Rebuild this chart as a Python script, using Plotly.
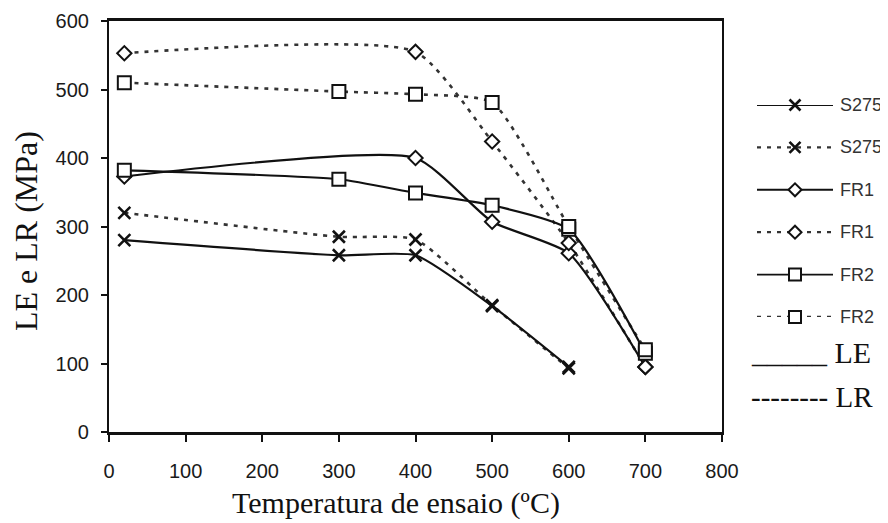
import plotly.graph_objects as go

# ---- data ----
temps_s275 = [20, 300, 400, 500, 600]
s275_le = [280, 258, 258, 184, 95]
s275_lr = [320, 285, 281, 185, 93]

temps_fr1 = [20, 400, 500, 600, 700]
fr1_le = [373, 400, 307, 261, 95]
fr1_lr = [553, 555, 424, 276, 95]

temps_fr2 = [20, 300, 400, 500, 600, 700]
fr2_le = [382, 369, 349, 331, 296, 115]
fr2_lr = [510, 497, 493, 481, 300, 120]

legend_labels = ["S275", "S275", "FR1", "FR1", "FR2", "FR2"]
x_ticks = [0, 100, 200, 300, 400, 500, 600, 700, 800]
y_ticks = [0, 100, 200, 300, 400, 500, 600]
x_title = "Temperatura de ensaio (ºC)"
y_title = "LE e LR (MPa)"

SOLID = dict(color="#111111", width=2.2, dash="solid")
DOTTED = dict(color="#333333", width=2.6, dash="4px,6px")

MK = {
    "x": dict(symbol="x-thin", size=12, color="#111111", line=dict(color="#111111", width=2.6)),
    "d": dict(symbol="diamond", size=11, color="white", line=dict(color="#111111", width=2)),
    "s": dict(symbol="square", size=13, color="white", line=dict(color="#111111", width=2)),
}

series = [
    (temps_s275, s275_le, "x", SOLID),
    (temps_s275, s275_lr, "x", DOTTED),
    (temps_fr1, fr1_le, "d", SOLID),
    (temps_fr1, fr1_lr, "d", DOTTED),
    (temps_fr2, fr2_le, "s", SOLID),
    (temps_fr2, fr2_lr, "s", DOTTED),
]

fig = go.Figure()

for xs, ys, m, ln in [series[1], series[3], series[5], series[0], series[2], series[4]]:
    fig.add_trace(go.Scatter(
        x=xs, y=ys, mode="lines",
        line=dict(color=ln["color"], width=ln["width"], dash=ln["dash"], shape="spline", smoothing=0.55),
        showlegend=False, hoverinfo="skip", cliponaxis=False,
    ))
for xs, ys, m, ln in series:
    fig.add_trace(go.Scatter(
        x=xs, y=ys, mode="markers", marker=MK[m],
        showlegend=False, cliponaxis=False,
    ))

# ---- custom legend drawn on an auxiliary invisible axis pair ----
for i, (xs, ys, m, ln) in enumerate(series):
    fig.add_trace(go.Scatter(
        x=[0, 1], y=[i, i], mode="lines", xaxis="x3", yaxis="y3",
        line=dict(color=ln["color"], width=ln["width"] - 0.3, dash=ln["dash"]),
        showlegend=False, hoverinfo="skip", cliponaxis=False,
    ))
    fig.add_trace(go.Scatter(
        x=[0.5], y=[i], mode="markers", xaxis="x3", yaxis="y3",
        marker=dict(MK[m], size=MK[m]["size"] - 1),
        showlegend=False, hoverinfo="skip", cliponaxis=False,
    ))

annotations = []
for i, lab in enumerate(legend_labels):
    annotations.append(dict(
        x=1, y=i, xref="x3", yref="y3", xshift=5, xanchor="left", yanchor="middle",
        text=lab, showarrow=False,
        font=dict(family="Liberation Sans, Arial", size=18, color="#333333"),
    ))
annotations.append(dict(
    x=(749 - 109) / 779, y=(432 - 352) / 411, xref="paper", yref="paper",
    xanchor="left", yanchor="middle",
    text="_____ LE", showarrow=False,
    font=dict(family="Liberation Serif, Times New Roman", size=30, color="#111111"),
))
annotations.append(dict(
    x=(749 - 109) / 779, y=(432 - 397) / 411, xref="paper", yref="paper",
    xanchor="left", yanchor="middle",
    text="-------- LR", showarrow=False,
    font=dict(family="Liberation Serif, Times New Roman", size=29, color="#111111"),
))
# axis titles
annotations.append(dict(
    x=(396 - 109) / 779, y=(432 - 503) / 411, xref="paper", yref="paper",
    xanchor="center", yanchor="middle",
    text=x_title, showarrow=False,
    font=dict(family="Liberation Serif, Times New Roman", size=30, color="#111111"),
))
annotations.append(dict(
    x=(26 - 109) / 779, y=(432 - 231) / 411, xref="paper", yref="paper",
    xanchor="center", yanchor="middle",
    text=y_title, showarrow=False, textangle=-90,
    font=dict(family="Liberation Serif, Times New Roman", size=32, color="#111111"),
))

main_dom = [0, 613 / 779]
tickfont = dict(family="Liberation Sans, Arial", size=20, color="#1a1a1a")

# the page body has an 8px default margin, so the figure is drawn 8px smaller
# and offset accordingly to land on the same pixels as the reference
fig.update_layout(
    template="none",
    width=880, height=515,
    margin=dict(l=101, r=0, t=13, b=91, pad=0, autoexpand=False),
    paper_bgcolor="white", plot_bgcolor="white",
    showlegend=False,
    annotations=annotations,
    xaxis=dict(
        domain=main_dom, range=[0, 800], tickvals=x_ticks, ticks="outside", ticklen=7,
        tickwidth=1.6, tickcolor="#111111", showline=True, linewidth=2.5, linecolor="#111111",
        mirror=True, showgrid=False, zeroline=False, tickfont=tickfont, ticklabelstandoff=12,
        fixedrange=True, automargin=False,
    ),
    yaxis=dict(
        range=[0, 600], tickvals=y_ticks, ticks="outside", ticklen=6,
        tickwidth=1.6, tickcolor="#111111", showline=True, linewidth=2.2, linecolor="#111111",
        mirror=True, showgrid=False, zeroline=False, tickfont=tickfont, ticklabelstandoff=8,
        fixedrange=True, automargin=False,
    ),
    xaxis2=dict(
        overlaying="x", anchor="y", domain=main_dom, range=[0, 800], tickvals=x_ticks,
        ticks="inside", ticklen=8, tickwidth=1.6, tickcolor="#111111", side="bottom",
        showticklabels=False, showline=False, showgrid=False, zeroline=False,
        fixedrange=True, automargin=False,
    ),
    yaxis2=dict(
        overlaying="y", anchor="x", range=[0, 600], tickvals=y_ticks,
        ticks="inside", ticklen=8, tickwidth=1.6, tickcolor="#111111", side="left",
        showticklabels=False, showline=False, showgrid=False, zeroline=False,
        fixedrange=True, automargin=False,
    ),
    xaxis3=dict(domain=[648 / 779, 724 / 779], range=[0, 1], visible=False, anchor="y3",
                fixedrange=True, automargin=False),
    yaxis3=dict(domain=[(432 - 317) / 411, (432 - 105) / 411], range=[5, 0], visible=False,
                anchor="x3", fixedrange=True, automargin=False),
)

fig.write_html("out.html")
